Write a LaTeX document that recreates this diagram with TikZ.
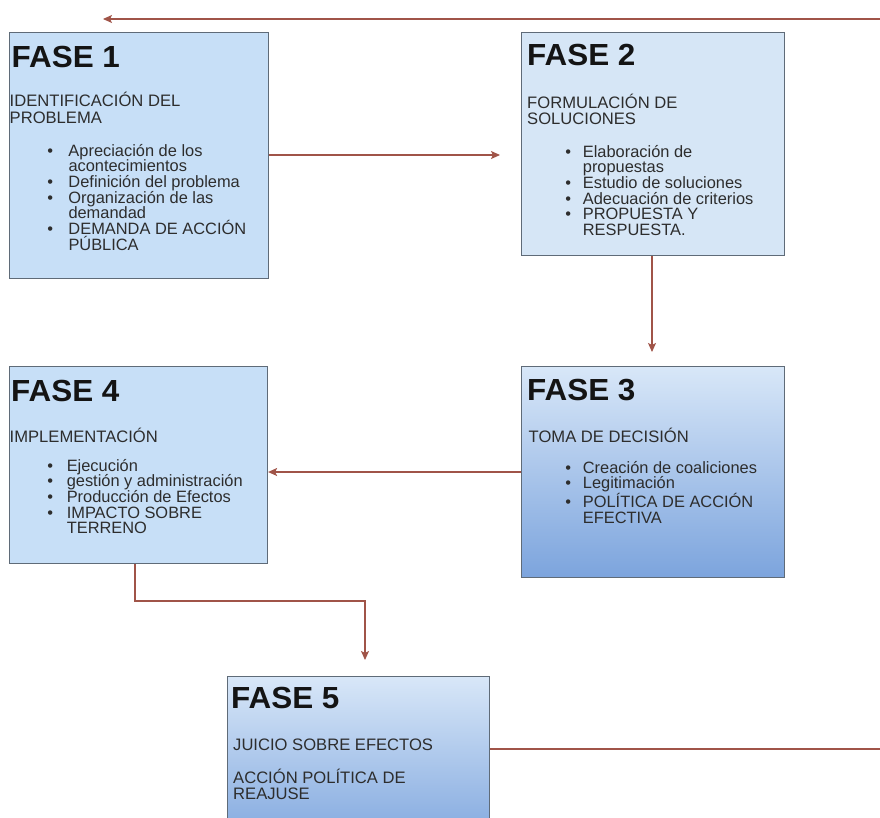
\documentclass[tikz,border=0pt]{standalone}
\usepackage{fontspec}
\setmainfont{Liberation Sans}
\newfontfamily\titlefont{Liberation Sans}[FakeStretch=1.03]
\usetikzlibrary{arrows.meta}
\definecolor{connred}{RGB}{160,84,72}
\definecolor{edgegray}{RGB}{95,107,120}
\definecolor{fillA}{RGB}{199,223,247}
\definecolor{fillB}{RGB}{214,230,246}
\definecolor{gradTop}{RGB}{216,231,248}
\definecolor{gradBot}{RGB}{124,164,221}
\definecolor{bodytext}{RGB}{45,45,45}
\newlength\bulw
\newcommand\bul{\makebox[\bulw][l]{\textbullet}}
\newcommand\cont{\hspace*{\bulw}}
\tikzset{
 box/.style={draw=edgegray, line width=1.1pt, anchor=north west, inner sep=0pt, rectangle},
 plainbox/.style={box, fill=fillA},
 lightbox/.style={box, fill=fillB},
 gradbox/.style={box, top color=gradTop, bottom color=gradBot},
 titletext/.style={anchor=base west, inner sep=0pt, text=black!92, font=\titlefont\bfseries\fontsize{30.5}{34}\selectfont},
 bodytxt/.style={anchor=base west, inner sep=0pt, text=bodytext, font=\fontsize{16.4}{15.7}\selectfont},
 subtxt/.style={anchor=base west, inner sep=0pt, text=bodytext, font=\fontsize{16.6}{16.7}\selectfont},
 connector/.style={draw=connred, line width=1.1pt, -{Stealth[length=9pt,width=8pt,inset=2pt]}},
}
\begin{document}
\begin{tikzpicture}[x=1pt,y=-1pt]
\useasboundingbox (0,0) rectangle (880,817);
\fill[white] (0,0) rectangle (880,817);
\clip (0,0) rectangle (880,817);

% boxes
\node[plainbox, minimum width=259pt, minimum height=246pt] (f1) at (9,32) {};
\node[lightbox, minimum width=263pt, minimum height=223pt] (f2) at (521,32) {};
\node[gradbox, minimum width=263pt, minimum height=211pt] (f3) at (521,366) {};
\node[plainbox, minimum width=258pt, minimum height=197pt] (f4) at (9,366) {};
\node[gradbox, minimum width=262pt, minimum height=175pt] (f5) at (227,676) {};

% FASE 1
\node[titletext] (f1t) at (11.5,67) {FASE 1};
\node[subtxt] (f1s) at (9.5,106.7) {\parbox[t]{250pt}{IDENTIFICACIÓN DEL\\PROBLEMA}};
\node[bodytxt] (f1b) at (47.1,156) {\setlength\bulw{21.2pt}\parbox[t]{215pt}{\bul Apreciación de los\\\cont acontecimientos\\\bul Definición del problema\\\bul Organización de las\\\cont demandad\\\bul DEMANDA DE ACCIÓN\\\cont PÚBLICA}};

% FASE 2
\node[titletext] (f2t) at (527,65) {FASE 2};
\node[subtxt] (f2s) at (527,108) {\parbox[t]{250pt}{FORMULACIÓN DE\\SOLUCIONES}};
\node[bodytxt] (f2b) at (565.1,157) {\setlength\bulw{17.6pt}\parbox[t]{215pt}{\bul Elaboración de\\\cont propuestas\\\bul Estudio de soluciones\\\bul Adecuación de criterios\\\bul PROPUESTA Y\\\cont RESPUESTA.}};

% FASE 3
\node[titletext] (f3t) at (527,400) {FASE 3};
\node[subtxt] (f3s) at (528.5,442) {TOMA DE DECISIÓN};
\node[bodytxt] (f3b) at (565.1,473) {\setlength\bulw{17.6pt}\parbox[t]{215pt}{\bul Creación de coaliciones\\\bul Legitimación\\\bul POLÍTICA DE ACCIÓN\\\cont EFECTIVA}};

% FASE 4
\node[titletext] (f4t) at (11,401) {FASE 4};
\node[subtxt] (f4s) at (9.5,442) {IMPLEMENTACIÓN};
\node[bodytxt] (f4b) at (47.1,471) {\setlength\bulw{19.5pt}\parbox[t]{215pt}{\bul Ejecución\\\bul gestión y administración\\\bul Producción de Efectos\\\bul IMPACTO SOBRE\\\cont TERRENO}};

% FASE 5
\node[titletext] (f5t) at (231,708) {FASE 5};
\node[subtxt] (f5s) at (233,750) {JUICIO SOBRE EFECTOS};
\node[subtxt] (f5r) at (233,783) {\parbox[t]{250pt}{ACCIÓN POLÍTICA DE\\REAJUSE}};

% connectors
\coordinate (t12) at (500,155);
\draw[connector] (f1.east |- t12) -- (t12);
\coordinate (t23) at (652,352);
\draw[connector] (f2.south -| t23) -- (t23);
\coordinate (m34) at (400,472);
\draw[connector] (f3.west |- m34) -- (f4.east |- m34);
\coordinate (k45a) at (135,601);
\coordinate (k45b) at (365,601);
\coordinate (t45) at (365,660);
\draw[connector] (f4.south -| k45a) -- (k45a) -- (k45b) -- (t45);
\coordinate (r5) at (884,749);
\coordinate (rt) at (884,19);
\coordinate (t51) at (103,19);
\draw[connector] (f5.east |- r5) -- (r5) -- (rt) -- (t51);
\end{tikzpicture}
\end{document}
